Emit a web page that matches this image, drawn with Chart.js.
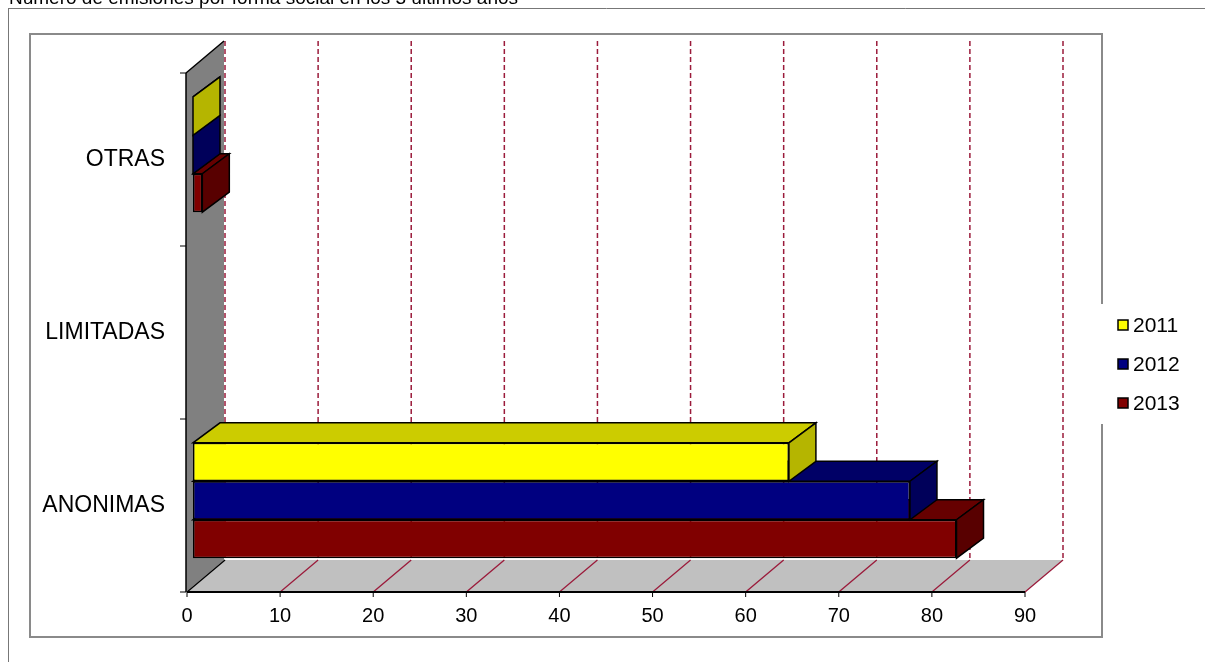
<!DOCTYPE html>
<html>
<head>
  <meta charset="utf-8">
  <title>Número de emisiones por forma social</title>
  <script src="https://cdn.jsdelivr.net/npm/chart.js@4.4.0/dist/chart.umd.min.js"></script>
  <style>
    body {
      margin: 0;
      background-color: #fff;
    }

    canvas {
      display: block;
    }
  </style>
</head>
<body>
  <canvas id="emisionesChart" width="1205" height="662"></canvas>

  <script>
    // data
    const titleText = 'Número de emisiones por forma social en los 3 últimos años';
    const categories = ['ANONIMAS', 'LIMITADAS', 'OTRAS'];
    const years = ['2011', '2012', '2013'];
    const values2011 = [64, null, 0];
    const values2012 = [77, null, 0];
    const values2013 = [82, null, 1];
    const xMin = 0;
    const xMax = 90;
    const xStep = 10;

    // colours: front face, top face, side face
    const frontColors = ['#ffff00', '#000080', '#800000'];
    const topColors = ['#cccc00', '#000066', '#660000'];
    const sideColors = ['#b5b500', '#00005a', '#580000'];

    const FONT = '"Liberation Sans", Arial, sans-serif';
    const wallDx = 38, wallDy = -32;   // depth of the walls / floor
    const barShiftX = 6, barShiftY = -5; // bars sit a bit behind the front plane
    const barDx = 27, barDy = -20;     // depth of each bar
    const gridRed = '#9b1b3b';

    function poly(ctx, pts, fill, stroke, lw) {
      ctx.beginPath();
      ctx.moveTo(pts[0][0], pts[0][1]);
      for (let k = 1; k < pts.length; k++) ctx.lineTo(pts[k][0], pts[k][1]);
      ctx.closePath();
      if (fill) { ctx.fillStyle = fill; ctx.fill(); }
      if (stroke) { ctx.strokeStyle = stroke; ctx.lineWidth = lw || 1; ctx.stroke(); }
    }

    function line(ctx, x1, y1, x2, y2, color, lw, dash) {
      ctx.beginPath();
      ctx.setLineDash(dash || []);
      ctx.moveTo(x1, y1);
      ctx.lineTo(x2, y2);
      ctx.strokeStyle = color;
      ctx.lineWidth = lw;
      ctx.stroke();
      ctx.setLineDash([]);
    }

    const frame3d = {
      id: 'frame3d',
      beforeDraw(chart) {
        const ctx = chart.ctx;
        ctx.save();
        ctx.fillStyle = '#fff';
        ctx.fillRect(0, 0, chart.width, chart.height);
        // title, cut off at the top
        ctx.fillStyle = '#000';
        ctx.font = '19px ' + FONT;
        ctx.textBaseline = 'alphabetic';
        ctx.fillText(titleText, 9, 4);
        // outer frame (top and left only visible)
        line(ctx, 8, 8.5, chart.width, 8.5, '#777', 1);
        line(ctx, 8.5, 8, 8.5, chart.height, '#777', 1);
        // plot frame
        ctx.strokeStyle = '#8a8a8a';
        ctx.lineWidth = 2;
        ctx.strokeRect(30, 34, 1072, 603);
        ctx.restore();
      },
      beforeDatasetsDraw(chart) {
        const ctx = chart.ctx;
        const a = chart.chartArea;
        const xs = chart.scales.x;
        ctx.save();
        // left wall
        const wx = a.left - 1;
        poly(ctx, [[wx, a.top], [wx + wallDx, a.top + wallDy], [wx + wallDx, a.bottom + wallDy], [wx, a.bottom]], '#808080');
        // floor
        poly(ctx, [[a.left, a.bottom], [a.right, a.bottom], [a.right + wallDx, a.bottom + wallDy], [a.left + wallDx, a.bottom + wallDy]], '#c0c0c0');
        // grid lines on back wall and floor
        for (let v = xMin; v <= xMax; v += xStep) {
          const px = xs.getPixelForValue(v);
          line(ctx, px + wallDx, a.top + wallDy, px + wallDx, a.bottom + wallDy, gridRed, 1.5, [5, 3]);
          if (v > xMin) line(ctx, px, a.bottom, px + wallDx, a.bottom + wallDy, gridRed, 1.3);
          line(ctx, px, a.bottom, px, a.bottom + 5, '#000', 1);
        }
        // wall outline
        line(ctx, wx, a.top, wx + wallDx, a.top + wallDy, '#000', 1.5);
        line(ctx, a.left, a.bottom, a.left + wallDx, a.bottom + wallDy, '#000', 1.5);
        line(ctx, wx, a.top, wx, a.bottom, '#000', 1.5);
        line(ctx, a.left, a.bottom, a.right, a.bottom, '#000', 2);
        // category boundary ticks
        const band = (a.bottom - a.top) / categories.length;
        for (let k = 0; k <= categories.length; k++) {
          const y = a.top + band * k;
          line(ctx, wx - 6, y, wx, y, '#000', 1);
        }
        ctx.restore();
        ctx.save();
        ctx.translate(barShiftX, barShiftY);
      },
      afterDatasetDraw(chart, args) {
        const ctx = chart.ctx;
        const i = args.index;
        const ds = chart.data.datasets[i];
        args.meta.data.forEach((bar, j) => {
          if (ds.data[j] == null) return;
          const p = bar.getProps(['x', 'y', 'base', 'height'], true);
          const top = p.y - p.height / 2;
          const bottom = p.y + p.height / 2;
          poly(ctx, [[p.base, top], [p.x, top], [p.x + barDx, top + barDy], [p.base + barDx, top + barDy]], topColors[i], '#000', 1.5);
          poly(ctx, [[p.x, top], [p.x + barDx, top + barDy], [p.x + barDx, bottom + barDy], [p.x, bottom]], sideColors[i], '#000', 1.5);
        });
      },
      afterDatasetsDraw(chart) {
        chart.ctx.restore();
      },
      afterDraw(chart) {
        const ctx = chart.ctx;
        ctx.save();
        // legend
        ctx.fillStyle = '#fff';
        ctx.fillRect(1097, 304, 108, 120);
        ctx.font = '21px ' + FONT;
        ctx.textBaseline = 'middle';
        chart.data.datasets.forEach((ds, i) => {
          const cy = 325 + i * 39;
          ctx.fillStyle = ds.backgroundColor;
          ctx.fillRect(1118, cy - 5, 10, 10);
          ctx.strokeStyle = '#000';
          ctx.lineWidth = 1.5;
          ctx.strokeRect(1118, cy - 5, 10, 10);
          ctx.fillStyle = '#000';
          ctx.fillText(ds.label, 1133, cy + 1);
        });
        ctx.restore();
      }
    };

    const series = [values2011, values2012, values2013];

    const ctx = document.getElementById('emisionesChart').getContext('2d');
    const chart = new Chart(ctx, {
      type: 'bar',
      data: {
        labels: categories,
        datasets: years.map((year, i) => ({
          label: year,
          data: series[i],
          backgroundColor: frontColors[i],
          borderColor: '#000',
          borderWidth: 1.5,
          borderSkipped: false,
          categoryPercentage: 0.667,
          barPercentage: 1.0,
          clip: false,
        })),
      },
      options: {
        indexAxis: 'y',
        responsive: false,
        animation: false,
        devicePixelRatio: 1,
        layout: {
          padding: { left: 0, top: 73, right: 180, bottom: 30 },
        },
        plugins: {
          legend: { display: false },
          tooltip: { enabled: false },
        },
        scales: {
          x: {
            min: xMin,
            max: xMax,
            ticks: {
              stepSize: xStep,
              color: '#000',
              font: { family: FONT, size: 20 },
              padding: 12,
              maxRotation: 0,
            },
            grid: { display: false, drawTicks: false },
            border: { display: false },
            afterFit: (scale) => { scale.height = 40; },
          },
          y: {
            reverse: true,
            ticks: {
              color: '#000',
              font: { family: FONT, size: 23 },
              padding: 22,
            },
            grid: { display: false, drawTicks: false },
            border: { display: false },
            afterFit: (scale) => { scale.width = 187; },
          },
        },
      },
      plugins: [frame3d],
    });
  </script>
</body>
</html>
